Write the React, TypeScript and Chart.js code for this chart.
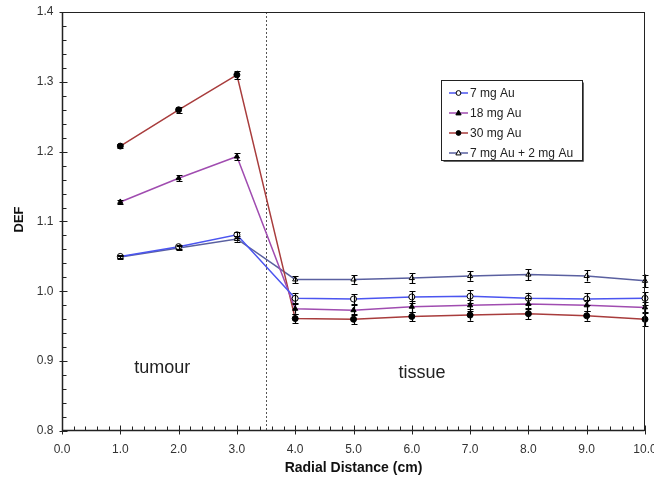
import React, { useEffect, useRef } from "react";
import { Chart, registerables } from "chart.js";

Chart.register(...registerables);

const radialDistance = [1, 2, 3, 4, 5, 6, 7, 8, 9, 10];
const def7mg = [1.05, 1.064, 1.081, 0.99, 0.989, 0.992, 0.993, 0.99, 0.989, 0.99];
const def18mg = [1.128, 1.162, 1.193, 0.975, 0.973, 0.978, 0.98, 0.982, 0.98, 0.977];
const def30mg = [1.208, 1.26, 1.31, 0.961, 0.96, 0.964, 0.966, 0.968, 0.965, 0.96];
const def7p2mg = [1.049, 1.062, 1.075, 1.017, 1.017, 1.019, 1.022, 1.024, 1.022, 1.015];

const err7mg = [0.002, 0.003, 0.004, 0.007, 0.007, 0.008, 0.009, 0.008, 0.008, 0.009];
const err18mg = [0.003, 0.004, 0.005, 0.007, 0.007, 0.008, 0.008, 0.008, 0.008, 0.008];
const err30mg = [0.003, 0.004, 0.006, 0.007, 0.007, 0.007, 0.008, 0.008, 0.007, 0.01];
const err7p2mg = [0.002, 0.003, 0.004, 0.005, 0.006, 0.007, 0.007, 0.008, 0.008, 0.009];

const seriesLabels = ["7 mg Au", "18 mg Au", "30 mg Au", "7 mg Au + 2 mg Au"];
const xTicks = [0, 1, 2, 3, 4, 5, 6, 7, 8, 9, 10];
const yTicks = [0.8, 0.9, 1.0, 1.1, 1.2, 1.3, 1.4];
const regionLabels = ["tumour", "tissue"];
const regionPos = [
  [1.24, 0.883],
  [5.77, 0.876],
];
const boundaryX = 3.5;

const FONT = '"Liberation Sans", Arial, sans-serif';

const seriesStyle = [
  { color: "#4b55f0", pointStyle: "circle", fill: "#ffffff" },
  { color: "#a04cb0", pointStyle: "triangle", fill: "#000000" },
  { color: "#a83c3c", pointStyle: "circle", fill: "#000000" },
  { color: "#5a60a0", pointStyle: "triangle", fill: "#ffffff" },
];

const seriesValues = [def7mg, def18mg, def30mg, def7p2mg];
const seriesErrors = [err7mg, err18mg, err30mg, err7p2mg];

function drawMarker(ctx: CanvasRenderingContext2D, style: string, fill: string, x: number, y: number, r: number) {
  ctx.save();
  ctx.beginPath();
  if (style === "circle") {
    ctx.arc(x, y, r, 0, Math.PI * 2);
  } else {
    ctx.moveTo(x, y - r * 1.2);
    ctx.lineTo(x + r * 1.1, y + r * 0.8);
    ctx.lineTo(x - r * 1.1, y + r * 0.8);
    ctx.closePath();
  }
  ctx.fillStyle = fill;
  ctx.fill();
  ctx.strokeStyle = "#000";
  ctx.lineWidth = 1;
  ctx.stroke();
  ctx.restore();
}

const decorPlugin = {
  id: "decor",
  beforeDatasetsDraw(chart: any) {
    const { ctx, chartArea } = chart;
    const xs = chart.scales.x;
    const px = Math.round(xs.getPixelForValue(boundaryX)) + 0.5;
    ctx.save();
    ctx.strokeStyle = "#555";
    ctx.lineWidth = 1;
    ctx.setLineDash([2, 2]);
    ctx.beginPath();
    ctx.moveTo(px, chartArea.top);
    ctx.lineTo(px, chartArea.bottom);
    ctx.stroke();
    ctx.restore();
  },
  afterDatasetsDraw(chart: any) {
    const { ctx } = chart;
    const xs = chart.scales.x;
    const ys = chart.scales.y;
    ctx.save();
    ctx.strokeStyle = "#000";
    ctx.lineWidth = 1.2;
    seriesValues.forEach((vals, si) => {
      vals.forEach((v, i) => {
        const e = seriesErrors[si][i];
        const x = Math.round(xs.getPixelForValue(radialDistance[i])) + 0.5;
        const y1 = ys.getPixelForValue(v + e);
        const y2 = ys.getPixelForValue(v - e);
        ctx.beginPath();
        ctx.moveTo(x, y1);
        ctx.lineTo(x, y2);
        ctx.moveTo(x - 3, Math.round(y1) + 0.5);
        ctx.lineTo(x + 3, Math.round(y1) + 0.5);
        ctx.moveTo(x - 3, Math.round(y2) + 0.5);
        ctx.lineTo(x + 3, Math.round(y2) + 0.5);
        ctx.stroke();
      });
    });
    ctx.restore();
  },
  afterDraw(chart: any) {
    const { ctx, chartArea } = chart;
    const xs = chart.scales.x;
    const ys = chart.scales.y;
    const L = chartArea.left + 0.5;
    const R = chartArea.right - 0.5;
    const T = chartArea.top + 0.5;
    const B = chartArea.bottom - 0.5;
    ctx.save();
    ctx.strokeStyle = "#222";
    ctx.lineWidth = 1;
    ctx.strokeRect(L, T, R - L, B - T);
    ctx.lineWidth = 1.5;
    ctx.beginPath();
    ctx.moveTo(L, T);
    ctx.lineTo(L, B);
    ctx.lineTo(R, B);
    ctx.stroke();
    ctx.lineWidth = 1;
    ctx.beginPath();
    for (let k = 0; k <= 30; k++) {
      const v = 0.8 + k * 0.02;
      const y = Math.round(ys.getPixelForValue(v)) + 0.5;
      const major = k % 5 === 0;
      ctx.moveTo(L - (major ? 3 : 0), y);
      ctx.lineTo(L + (major ? 5 : 4), y);
    }
    for (let k = 0; k <= 50; k++) {
      const v = k * 0.2;
      const x = Math.round(xs.getPixelForValue(v)) + 0.5;
      const major = k % 5 === 0;
      ctx.moveTo(x, B + (major ? 4 : 0));
      ctx.lineTo(x, B - (major ? 5 : 4));
    }
    ctx.stroke();

    ctx.fillStyle = "#333";
    ctx.font = `12px ${FONT}`;
    ctx.textAlign = "right";
    ctx.textBaseline = "middle";
    yTicks.forEach((v) => {
      ctx.fillText(v.toFixed(1), L - 9, ys.getPixelForValue(v));
    });
    ctx.textAlign = "center";
    ctx.textBaseline = "middle";
    xTicks.forEach((v) => {
      ctx.fillText(v.toFixed(1), xs.getPixelForValue(v), B + 19);
    });

    ctx.fillStyle = "#111";
    ctx.font = `bold 14px ${FONT}`;
    ctx.fillText("Radial Distance (cm)", (chartArea.left + chartArea.right) / 2, 468);
    ctx.save();
    ctx.translate(19, (chartArea.top + chartArea.bottom) / 2 - 2);
    ctx.rotate(-Math.PI / 2);
    ctx.font = `bold 13px ${FONT}`;
    ctx.fillText("DEF", 0, 0);
    ctx.restore();

    ctx.font = `18px ${FONT}`;
    ctx.fillStyle = "#222";
    ctx.textAlign = "left";
    ctx.textBaseline = "alphabetic";
    regionLabels.forEach((t, i) => {
      ctx.fillText(t, xs.getPixelForValue(regionPos[i][0]), ys.getPixelForValue(regionPos[i][1]));
    });

    const bx = 441.5, by = 80.5, bw = 141, bh = 80;
    ctx.fillStyle = "#fff";
    ctx.fillRect(bx, by, bw, bh);
    ctx.strokeStyle = "#222";
    ctx.lineWidth = 1;
    ctx.strokeRect(bx, by, bw, bh);
    ctx.strokeStyle = "#666";
    ctx.beginPath();
    ctx.moveTo(bx + bw + 1, by + 2);
    ctx.lineTo(bx + bw + 1, by + bh + 1);
    ctx.lineTo(bx + 2, by + bh + 1);
    ctx.stroke();
    ctx.font = `12px ${FONT}`;
    ctx.textBaseline = "middle";
    ctx.textAlign = "left";
    seriesLabels.forEach((lab, i) => {
      const y = 93 + i * 20;
      const st = seriesStyle[i];
      ctx.strokeStyle = st.color;
      ctx.lineWidth = 1.5;
      ctx.beginPath();
      ctx.moveTo(449, y);
      ctx.lineTo(468, y);
      ctx.stroke();
      drawMarker(ctx, st.pointStyle, st.fill, 458.5, y, 2.4);
      ctx.fillStyle = "#222";
      ctx.fillText(lab, 470, y + 1);
    });
    ctx.restore();
  },
};

export default function App() {
  const ref = useRef<HTMLCanvasElement | null>(null);
  useEffect(() => {
    document.body.style.margin = "0";
    const canvas = ref.current;
    if (!canvas) return;
    const chart = new Chart(canvas, {
      type: "line",
      data: {
        datasets: seriesLabels.map((lab, si) => ({
          label: lab,
          data: radialDistance.map((x, i) => ({ x, y: seriesValues[si][i] })),
          borderColor: seriesStyle[si].color,
          borderWidth: 1.5,
          pointStyle: seriesStyle[si].pointStyle as any,
          pointRadius: 3,
          pointBorderColor: "#000",
          pointBorderWidth: 1,
          pointBackgroundColor: seriesStyle[si].fill,
          tension: 0,
          fill: false,
          clip: false as any,
        })),
      },
      options: {
        responsive: false,
        animation: false,
        events: [],
        layout: { padding: { left: 62, right: 9, top: 12, bottom: 52 } },
        plugins: { legend: { display: false }, tooltip: { enabled: false }, title: { display: false } },
        scales: {
          x: { type: "linear", min: 0, max: 10, display: false },
          y: { type: "linear", min: 0.8, max: 1.4, display: false },
        },
      },
      plugins: [decorPlugin],
    });
    return () => chart.destroy();
  }, []);
  return (
    <div style={{ position: "fixed", left: 0, top: 0, width: 654, height: 483, background: "#fff" }}>
      <canvas ref={ref} width={654} height={483} style={{ display: "block", width: 654, height: 483 }} />
    </div>
  );
}
